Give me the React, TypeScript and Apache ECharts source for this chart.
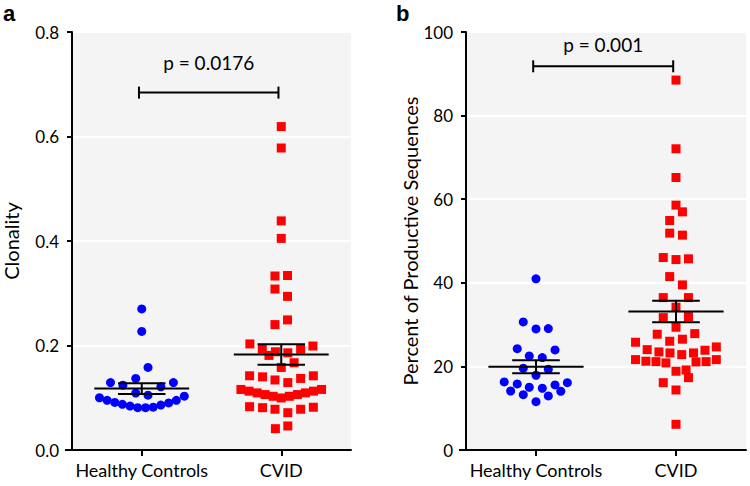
import React, { useEffect, useRef } from 'react';
import * as echarts from 'echarts';

const categories = ['Healthy Controls', 'CVID'];
const pLabels = ['p = 0.0176', 'p = 0.001'];
const panelLetters = ['a', 'b'];
const yNames = ['Clonality', 'Percent of Productive Sequences'];

// Panel a — Clonality
const clonHC = [0.270, 0.227, 0.158, 0.129, 0.124, 0.137, 0.121, 0.129, 0.109, 0.105, 0.100, 0.095, 0.091, 0.0875, 0.084, 0.081, 0.081, 0.082, 0.086, 0.090, 0.095, 0.103];
const clonHCdx = [0, 0, 0.045, -0.224, -0.135, -0.043, 0.137, 0.227, -0.043, 0.045, -0.303, -0.248, -0.193, -0.139, -0.084, -0.029, 0.027, 0.082, 0.137, 0.193, 0.248, 0.305];
const clonCVID = [0.619, 0.578, 0.4385, 0.405, 0.333, 0.334, 0.308, 0.294, 0.240, 0.249, 0.203, 0.199, 0.193, 0.181, 0.188, 0.186, 0.193, 0.167, 0.158, 0.142, 0.140, 0.134, 0.129, 0.137, 0.142, 0.1159, 0.1126, 0.1093, 0.1061, 0.1028, 0.0996, 0.1028, 0.1061, 0.1093, 0.1126, 0.1159, 0.0829, 0.081, 0.078, 0.0714, 0.078, 0.0818, 0.0408, 0.046];
const clonCVIDdx = [0, 0, 0, 0, -0.045, 0.045, -0.045, 0.045, -0.045, 0.045, -0.225, 0.227, -0.136, -0.088, -0.042, 0.047, 0.139, 0.092, 0, -0.227, -0.134, -0.045, 0.047, 0.139, 0.23, -0.289, -0.231, -0.173, -0.116, -0.058, 0, 0.058, 0.116, 0.173, 0.231, 0.289, -0.227, -0.134, -0.045, 0.047, 0.139, 0.23, -0.042, 0.047];

// Panel b — Percent of productive sequences
const prodHC = [40.94, 30.64, 28.97, 29.04, 24.25, 23.94, 22.5, 22.1, 19.56, 19.32, 17.88, 16.28, 16.11, 15.8, 15.56, 15.01, 14.77, 14.12, 14.05, 13.24, 12.93, 11.56];
const prodHCdx = [0, -0.091, 0, 0.088, -0.134, 0.136, -0.048, 0.045, -0.091, 0.088, 0, -0.227, 0.224, -0.134, 0.136, -0.048, 0.045, -0.181, 0.177, -0.091, 0.088, 0];
const prodCVID = [88.5, 72.06, 65.19, 58.58, 56.97, 54.9, 51.88, 51.4, 46.04, 45.56, 45.73, 41.49, 39.5, 36.46, 36.46, 34.16, 31.67, 31.91, 29.37, 27.7, 27.84, 26.02, 26.5, 25.78, 24.66, 24.01, 23.87, 23.46, 23.22, 22.82, 23.22, 21.62, 21.24, 21.14, 20.83, 21.07, 21.14, 21.62, 18.84, 19.15, 17.31, 16.11, 14.36, 6.15];
const prodCVIDdx = [0, 0, 0, 0, 0.046, -0.045, -0.045, 0.046, -0.091, 0, 0.089, -0.045, 0.046, -0.091, 0.089, 0, -0.091, 0.089, 0, -0.134, 0.134, -0.045, 0.046, -0.289, 0.288, -0.206, 0.207, -0.122, -0.043, 0.041, 0.125, -0.289, -0.215, -0.143, -0.072, 0.143, 0.215, 0.288, 0, 0.072, 0.089, -0.091, 0, 0];

// significance brackets: [from, to, bracket y, text y]
const bracketA = [0.98, 1.98, 0.684, 0.741];
const bracketB = [0.98, 1.98, 91.8, 97];

const FONT = 'Lato';

function meanSem(v: number[]) {
  const n = v.length;
  const m = v.reduce((a, b) => a + b, 0) / n;
  const sd = Math.sqrt(v.reduce((a, b) => a + (b - m) * (b - m), 0) / (n - 1));
  return [m, sd / Math.sqrt(n)];
}

export default function App() {
  const ref = useRef<HTMLDivElement>(null);
  useEffect(() => {
    document.body.style.margin = '0';
    const chart = echarts.init(ref.current!, null, { renderer: 'svg' });

    const pts = (vals: number[], dx: number[], c: number) => vals.map((v, i) => [c + dx[i], v]);

    const statItems = (groups: number[][]) =>
      groups.map((g, i) => {
        const [m, s] = meanSem(g);
        return [i + 1, m, s];
      });

    const renderStat = (params: any, api: any) => {
      const c = api.value(0), m = api.value(1), s = api.value(2);
      const P = (x: number, y: number) => api.coord([x, y]);
      const seg = (a: number[], b: number[]) => ({
        type: 'line',
        shape: { x1: a[0], y1: a[1], x2: b[0], y2: b[1] },
        style: { stroke: '#000', lineWidth: 2 },
      });
      return {
        type: 'group',
        children: [
          seg(P(c - 0.34, m), P(c + 0.34, m)),
          seg(P(c - 0.17, m + s), P(c + 0.17, m + s)),
          seg(P(c - 0.17, m - s), P(c + 0.17, m - s)),
          seg(P(c, m - s), P(c, m + s)),
        ],
      };
    };

    const renderBracket = (text: string) => (params: any, api: any) => {
      const a = api.coord([api.value(0), api.value(2)]);
      const b = api.coord([api.value(1), api.value(2)]);
      const t = api.coord([(api.value(0) + api.value(1)) / 2, api.value(3)]);
      const seg = (x1: number, y1: number, x2: number, y2: number) => ({
        type: 'line',
        shape: { x1, y1, x2, y2 },
        style: { stroke: '#000', lineWidth: 2 },
      });
      return {
        type: 'group',
        children: [
          seg(a[0], a[1], b[0], b[1]),
          seg(a[0], a[1] - 6, a[0], a[1] + 6),
          seg(b[0], b[1] - 6, b[0], b[1] + 6),
          {
            type: 'text',
            x: t[0],
            y: t[1],
            style: {
              text,
              align: 'center',
              verticalAlign: 'middle',
              textAlign: 'center',
              textVerticalAlign: 'middle',
              fontSize: 19,
              fontFamily: FONT,
              fill: '#000',
            },
          },
        ],
      };
    };

    // x axis line stub extending left of the y axis (decoration)
    const renderStub = (params: any, api: any) => {
      const p = api.coord([0.5, 0]);
      return {
        type: 'line',
        shape: { x1: p[0] - 7, y1: p[1], x2: p[0], y2: p[1] },
        style: { stroke: '#000', lineWidth: 2 },
      };
    };

    const xAxis = (gridIndex: number) => ({
      type: 'value',
      gridIndex,
      min: 0.5,
      max: 2.5,
      axisLine: { show: true, lineStyle: { color: '#000', width: 2 } },
      axisTick: { show: true, customValues: [1, 2], length: 6, lineStyle: { color: '#000', width: 2 } },
      axisLabel: {
        customValues: [1, 2],
        formatter: (v: number) => categories[Math.round(v) - 1] || '',
        color: '#000',
        fontSize: 18,
        fontFamily: FONT,
        margin: 11,
      },
      splitLine: { show: false },
    });

    const yAxis = (gridIndex: number, max: number, interval: number, digits: number, name: string, gap: number) => ({
      type: 'value',
      gridIndex,
      min: 0,
      max,
      interval,
      name,
      nameLocation: 'middle',
      nameGap: gap,
      nameTextStyle: { fontSize: 20, fontFamily: FONT, color: '#000' },
      axisLine: { show: true, lineStyle: { color: '#000', width: 2 } },
      axisTick: { show: true, length: 5, lineStyle: { color: '#000', width: 2 } },
      axisLabel: {
        formatter: (v: number) => v.toFixed(digits),
        color: '#000',
        fontSize: 17,
        fontFamily: FONT,
        margin: 13,
      },
      splitLine: { show: true, lineStyle: { color: '#ffffff', width: 2 } },
    });

    const scatter = (xi: number, data: number[][], symbol: string, color: string) => ({
      type: 'scatter',
      xAxisIndex: xi,
      yAxisIndex: xi,
      data,
      symbol,
      symbolSize: 9,
      itemStyle: { color, opacity: 1 },
      z: 2,
    });

    chart.setOption({
      animation: false,
      backgroundColor: '#ffffff',
      title: [
        { text: panelLetters[0], left: 3, top: 2, padding: 0, textStyle: { fontSize: 22, fontWeight: 'bold', fontFamily: 'Liberation Sans', color: '#000' } },
        { text: panelLetters[1], left: 396, top: 2, padding: 0, textStyle: { fontSize: 22, fontWeight: 'bold', fontFamily: 'Liberation Sans', color: '#000' } },
      ],
      grid: [
        { left: 71, top: 32, width: 280, bottom: 36, show: true, backgroundColor: '#f4f4f4', borderWidth: 0 },
        { left: 466, top: 32, width: 280, bottom: 36, show: true, backgroundColor: '#f4f4f4', borderWidth: 0 },
      ],
      xAxis: [xAxis(0), xAxis(1)],
      yAxis: [
        yAxis(0, 0.8, 0.2, 1, yNames[0], 51),
        yAxis(1, 100, 20, 0, yNames[1], 46),
      ],
      series: [
        scatter(0, pts(clonHC, clonHCdx, 1), 'circle', '#0000ff'),
        scatter(0, pts(clonCVID, clonCVIDdx, 2), 'rect', '#ff0000'),
        scatter(1, pts(prodHC, prodHCdx, 1), 'circle', '#0000ff'),
        scatter(1, pts(prodCVID, prodCVIDdx, 2), 'rect', '#ff0000'),
        {
          type: 'custom', xAxisIndex: 0, yAxisIndex: 0, z: 5,
          data: statItems([clonHC, clonCVID]), renderItem: renderStat,
          encode: { x: 0, y: 1 },
        },
        {
          type: 'custom', xAxisIndex: 1, yAxisIndex: 1, z: 5,
          data: statItems([prodHC, prodCVID]), renderItem: renderStat,
          encode: { x: 0, y: 1 },
        },
        {
          type: 'custom', xAxisIndex: 0, yAxisIndex: 0, z: 5,
          data: [bracketA], renderItem: renderBracket(pLabels[0]),
          encode: { x: [0, 1], y: 2 },
        },
        {
          type: 'custom', xAxisIndex: 1, yAxisIndex: 1, z: 5,
          data: [bracketB], renderItem: renderBracket(pLabels[1]),
          encode: { x: [0, 1], y: 2 },
        },
        {
          type: 'custom', xAxisIndex: 0, yAxisIndex: 0, z: 5, clip: false,
          data: [[0.5, 0]], renderItem: renderStub, encode: { x: 0, y: 1 },
        },
        {
          type: 'custom', xAxisIndex: 1, yAxisIndex: 1, z: 5, clip: false,
          data: [[0.5, 0]], renderItem: renderStub, encode: { x: 0, y: 1 },
        },
      ],
    });
    return () => chart.dispose();
  }, []);
  return <div ref={ref} style={{ width: 750, height: 486 }} />;
}
